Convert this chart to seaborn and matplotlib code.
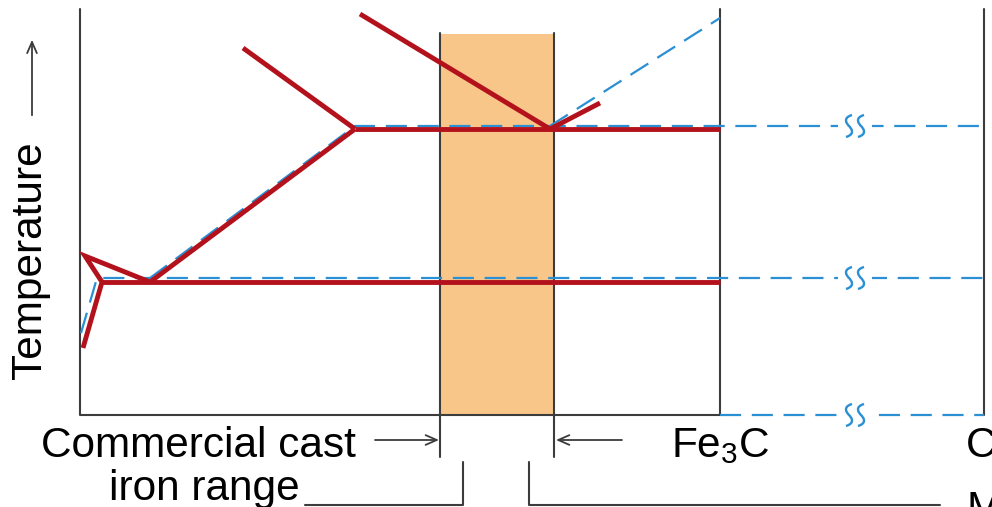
import numpy as np
import pandas as pd
import seaborn as sns
import matplotlib.pyplot as plt
from matplotlib.path import Path
from matplotlib.patches import PathPatch, Rectangle

# schematic coordinates: x = composition axis, T = height above bottom edge
red_x = [83, 102, 85, 150, 102, 720, 150, 355, 243, 355, 355, 720, 360, 550, 600]
red_T = [159, 225, 251, 225, 225, 225, 225, 378, 459, 378, 378, 378, 493, 378, 404]
red_id = [0, 0, 0, 0, 1, 1, 2, 2, 3, 3, 4, 4, 5, 5, 5]

blue_x = [81, 97, 984, 150, 355, 984, 550, 720, 720, 984]
blue_T = [174, 229, 229, 229, 381, 381, 381, 489, 92, 92]
blue_id = [0, 0, 0, 1, 1, 1, 2, 2, 3, 3]

frame_x = [80, 80, 720, 720, 720, 984, 984, 440, 440, 554, 554]
frame_T = [498, 92, 92, 92, 498, 92, 498, 50, 474, 50, 474]
frame_id = [0, 0, 0, 1, 1, 2, 2, 3, 3, 4, 4]

cast_range = (440, 554)
break_x = 855
break_T = [381, 229, 92]

RED = "#b3121c"
BLUE = "#2a8fd3"
GREY = "#3c3c3c"
ORANGE = "#f9c68a"

sns.set_style("white")
plt.rcParams["font.family"] = ["Liberation Sans", "DejaVu Sans"]
plt.rcParams["text.color"] = "black"

fig = plt.figure(figsize=(9.92, 5.07), dpi=100)
ax = fig.add_axes([0, 0, 1, 1])
ax.set_xlim(0, 992)
ax.set_ylim(0, 507)
ax.axis("off")

ax.add_patch(Rectangle((cast_range[0], 92), cast_range[1] - cast_range[0], 381,
                       facecolor=ORANGE, edgecolor="none", zorder=0))

frame = pd.DataFrame({"x": frame_x, "T": frame_T, "seg": frame_id})
sns.lineplot(data=frame, x="x", y="T", units="seg", estimator=None, sort=False,
             color=GREY, lw=1.5, ax=ax, legend=False, zorder=1)

blue = pd.DataFrame({"x": blue_x, "T": blue_T, "seg": blue_id})
sns.lineplot(data=blue, x="x", y="T", units="seg", estimator=None, sort=False,
             color=BLUE, lw=1.6, dashes=False, ax=ax, legend=False, zorder=2)
for ln in ax.lines[-4:]:
    ln.set_linestyle((0, (9.5, 4.8)))

red = pd.DataFrame({"x": red_x, "T": red_T, "seg": red_id})
sns.lineplot(data=red, x="x", y="T", units="seg", estimator=None, sort=False,
             color=RED, lw=3.5, ax=ax, legend=False, zorder=3,
             solid_joinstyle="miter", solid_capstyle="butt")

# axis break marks
for t in break_T:
    ax.add_patch(Rectangle((break_x - 17, t - 4), 34, 8, facecolor="white",
                           edgecolor="none", zorder=4))
    for dx in (-6, 6):
        cx = break_x + dx
        verts = [(cx + 3, t + 11), (cx - 7, t + 8), (cx - 2, t + 2), (cx, t),
                 (cx + 2, t - 2), (cx + 7, t - 8), (cx - 3, t - 11)]
        codes = [Path.MOVETO, Path.CURVE4, Path.CURVE4, Path.CURVE4,
                 Path.CURVE4, Path.CURVE4, Path.CURVE4]
        ax.add_patch(PathPatch(Path(verts, codes), facecolor="none",
                               edgecolor=BLUE, lw=1.7, zorder=5))

fs = 30.5
ax.text(30, 247, "Temperature", rotation=90, ha="center", va="center",
        fontsize=fs)
ax.annotate("", xy=(32, 470), xytext=(32, 389),
            arrowprops=dict(arrowstyle="->,head_length=0.8,head_width=0.35",
                            color=GREY, lw=1.3))

ax.text(41, 50, "Commercial cast", ha="left", va="baseline", fontsize=fs)
ax.text(109, 7, "iron range", ha="left", va="baseline", fontsize=fs)
ax.text(671, 50, r"Fe$_\mathregular{3}$C", ha="left", va="baseline", fontsize=fs)
ax.text(966, 50, "C", ha="left", va="baseline", fontsize=fs)
ax.text(966, -14, "M", ha="left", va="baseline", fontsize=fs)

ax.annotate("", xy=(439, 67), xytext=(375, 67),
            arrowprops=dict(arrowstyle="->,head_length=0.8,head_width=0.35",
                            color=GREY, lw=1.3, shrinkA=0, shrinkB=0))
ax.annotate("", xy=(556, 67), xytext=(622, 67),
            arrowprops=dict(arrowstyle="->,head_length=0.8,head_width=0.35",
                            color=GREY, lw=1.3, shrinkA=0, shrinkB=0))

ax.plot([305, 463, 463], [2, 2, 45], color=GREY, lw=1.5)
ax.plot([529, 529, 940], [45, 2, 2], color=GREY, lw=1.5)

fig.savefig("out.png", dpi=100)
